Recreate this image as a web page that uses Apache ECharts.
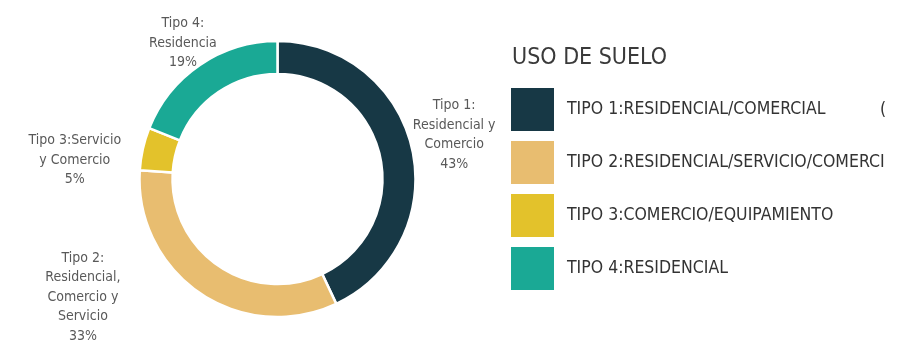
<!DOCTYPE html>
<html>
<head>
<meta charset="utf-8">
<script src="https://cdn.jsdelivr.net/npm/echarts@6/dist/echarts.min.js"></script>
<style>
html,body{margin:0;padding:0;background:#fff;overflow:hidden;}
#chart{width:912px;height:345px;}
</style>
</head>
<body>
<div id="chart"></div>
<script>
// ---- data ----
const categories = [
  'TIPO 1:RESIDENCIAL/COMERCIAL',
  'TIPO 2:RESIDENCIAL/SERVICIO/COMERCIO',
  'TIPO 3:COMERCIO/EQUIPAMIENTO',
  'TIPO 4:RESIDENCIAL'
];
const sliceLabels = [
  'Tipo 1:\nResidencial y\nComercio',
  'Tipo 2:\nResidencial,\nComercio y\nServicio',
  'Tipo 3:Servicio\ny Comercio',
  'Tipo 4:\nResidencia'
];
const values = [43, 33, 5, 19];
const titleText = 'USO DE SUELO';

// ---- styles ----
const colors = ['#173845', '#e8bd70', '#e3c22b', '#1aa995'];
const FONT = '"Liberation Sans Narrow", "Arial Narrow", "DejaVu Sans Condensed", sans-serif';
const labelShift = [[37, -14], [-112, 4], [-63, 11], [-12, -22]];

const chart = echarts.init(document.getElementById('chart'), null, {renderer: 'canvas'});
chart.setOption({
  backgroundColor: '#ffffff',
  animation: false,
  color: colors,
  title: {
    text: titleText,
    left: 512,
    top: 47,
    padding: 0,
    textStyle: {fontFamily: FONT, fontSize: 23, fontWeight: 'normal', color: '#3a3a3a'}
  },
  legend: {
    orient: 'vertical',
    left: 511,
    top: 88,
    padding: 0,
    itemWidth: 43,
    itemHeight: 43,
    itemGap: 10,
    icon: 'rect',
    selectedMode: false,
    itemStyle: {borderWidth: 0},
    data: categories,
    textStyle: {
      fontFamily: FONT,
      fontSize: 17.5,
      color: '#333333',
      padding: [0, 0, 0, 8],
      width: 322,
      overflow: 'truncate',
      ellipsis: ''
    }
  },
  graphic: [{
    type: 'text',
    left: 880,
    top: 101,
    style: {text: '(', fontFamily: FONT, fontSize: 17.5, fill: '#333333'}
  }],
  series: [{
    type: 'pie',
    center: [277.5, 179],
    radius: [105, 138],
    startAngle: 90,
    clockwise: true,
    avoidLabelOverlap: false,
    itemStyle: {borderColor: '#ffffff', borderWidth: 2.5},
    label: {
      show: true,
      position: 'outside',
      fontFamily: FONT,
      fontSize: 14,
      lineHeight: 19.5,
      color: '#595959',
      formatter: function (p) { return sliceLabels[p.dataIndex] + '\n' + values[p.dataIndex] + '%'; }
    },
    labelLine: {show: false, length: 0, length2: 0},
    labelLayout: function (p) {
      const s = labelShift[p.dataIndex];
      return {align: 'center', verticalAlign: 'middle', dx: s[0], dy: s[1]};
    },
    emphasis: {disabled: true},
    data: categories.map((c, i) => ({name: c, value: values[i]}))
  }]
});
</script>
</body>
</html>
